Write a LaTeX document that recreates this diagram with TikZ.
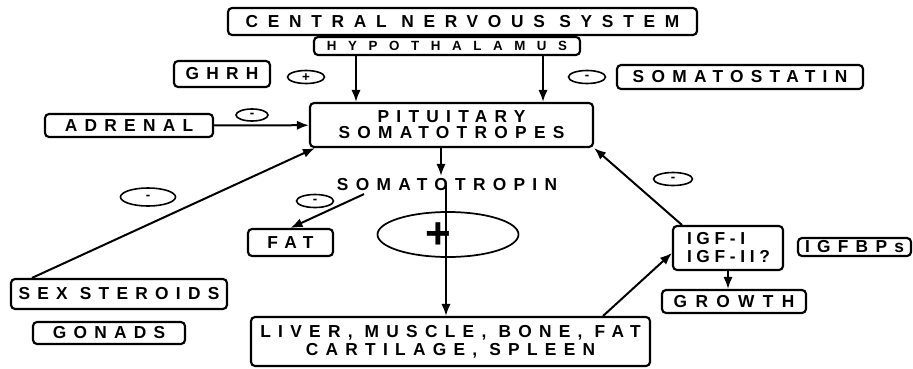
\documentclass[tikz,border=0pt]{standalone}
\usepackage{fontspec}
\usepackage{tikz}
\usetikzlibrary{shapes,positioning,calc}
\usetikzlibrary{arrows.meta}
\tikzset{>=latex}
\newfontfamily\boxfont[LetterSpace=42]{Liberation Sans Bold}
\newfontfamily\signfont{Liberation Sans Bold}
\newcommand{\pxu}{0.75pt}
\tikzset{
	box/.style={draw, line width=1.6pt, rounded corners=3pt, inner sep=0pt, align=center, font=\boxfont\fontsize{13}{15}\selectfont},
	sign/.style={draw, ellipse, line width=1.2pt, inner sep=0pt, minimum width=37*\pxu, minimum height=13*\pxu, text height=0.4em, text depth=-0.2em, font=\signfont\fontsize{10}{10}\selectfont},
	plussign/.style={sign, text height=0.6em, text depth=-0.1em},
	arr/.style={-{Latex[length=9pt,width=7pt]}, line width=1.5pt}
}

\begin{document}
\begin{tikzpicture}[x=0.75pt,y=-0.75pt]
	\useasboundingbox (0,0) rectangle (913,368);
	
	\node[box, minimum width=469*\pxu, minimum height=27*\pxu, font=\boxfont\fontsize{13}{15}\selectfont\addfontfeature{LetterSpace=56}] (cns) at (462.5,21.5) {CENTRAL NERVOUS SYSTEM};
	\node[box, minimum width=266*\pxu, minimum height=18*\pxu, font=\boxfont\fontsize{10}{10}\selectfont\addfontfeature{LetterSpace=87}] (hypo) at (447,46) {HYPOTHALAMUS};
	\node[box, minimum width=96*\pxu, minimum height=26*\pxu] (ghrh) at (222,74) {GHRH};
	\node[plussign] (plusA) at (306,77) {+};
	\node[sign] (minusS) at (587,77) {-};
	\node[box, minimum width=246*\pxu, minimum height=24*\pxu] (sst) at (740,77) {SOMATOSTATIN};
	\node[box, minimum width=168*\pxu, minimum height=23*\pxu] (adrenal) at (129,125.5) {ADRENAL};
	\node[sign, minimum width=32*\pxu, minimum height=12*\pxu] (minusA) at (252,115) {-};
	\node[box, minimum width=283*\pxu, minimum height=44*\pxu, font=\boxfont\fontsize{13}{12}\selectfont] (pit) at (451.5,125) {PITUITARY\\SOMATOTROPES};
	
	\node[inner sep=2pt, font=\boxfont\fontsize{13}{15}\selectfont] (somat) at (447,185) {SOMATOTROPIN};
	\node[sign, minimum width=55*\pxu, minimum height=18*\pxu] (minusX) at (148,197) {-};
	\node[sign] (minusF) at (315,201) {-};
	\node[box, minimum width=85*\pxu, minimum height=27*\pxu] (fat) at (290.5,242.5) {FAT};
	\node[draw, ellipse, line width=1.3pt, minimum width=141*\pxu, minimum height=45*\pxu] (bigplus) at (448,234.5) {};
	\node[font=\signfont\fontsize{33}{33}\selectfont, inner sep=0pt] (plusB) at (438,236) {+};
	
	\node[box, minimum width=216*\pxu, minimum height=30*\pxu] (sex) at (119,294) {SEX STEROIDS};
	\node[box, minimum width=152*\pxu, minimum height=22*\pxu] (gonads) at (109,333) {GONADS};
	\node[box, minimum width=399*\pxu, minimum height=49*\pxu, font=\boxfont\fontsize{13}{13.5}\selectfont] (liver) at (450.5,341.5) {LIVER, MUSCLE, BONE, FAT\\CARTILAGE, SPLEEN};
	
	\node[box, minimum height=44*\pxu, inner xsep=14*\pxu, text width=82*\pxu, align=left, font=\boxfont\fontsize{13}{13.5}\selectfont\addfontfeature{LetterSpace=27}] (igf) at (728,248) {IGF-I\\IGF-II?};
	\node[sign, minimum width=39*\pxu] (minusI) at (673,179) {-};
	\node[box, minimum width=144*\pxu, minimum height=23*\pxu, font=\boxfont\fontsize{13}{15}\selectfont\addfontfeature{LetterSpace=48}] (growth) at (734,301.5) {GROWTH};
	\node[box, minimum width=113*\pxu, minimum height=18*\pxu] (igfbp) at (854.5,247) {IGFBPs};
	
	% connectors
	\coordinate (hl) at (356,0);
	\coordinate (hr) at (543,0);
	\coordinate (pl) at (441,0);
	\coordinate (sl) at (446,0);
	\draw[arr] (hypo.south -| hl) -- (pit.north -| hl);
	\draw[arr] (hypo.south -| hr) -- (pit.north -| hr);
	\draw[arr] (adrenal) -- (pit);
	\draw[arr] ([xshift=22*\pxu]sex.north west) -- ([xshift=6*\pxu]pit.south west);
	\draw[arr] (pit.south -| pl) -- (somat.north -| pl);
	\draw[arr] (somat.center -| sl) -- (liver.north -| sl);
	\draw[arr] ([xshift=30*\pxu]somat.south west) -- (fat.north);
	\draw[arr] ([xshift=-48*\pxu]liver.north east) -- ([yshift=-5*\pxu]igf.west);
	\draw[arr] ([xshift=10*\pxu]igf.north west) -- (pit.south east);
	\draw[arr] (igf.south) -- (igf.south |- growth.north);
\end{tikzpicture}
\end{document}
